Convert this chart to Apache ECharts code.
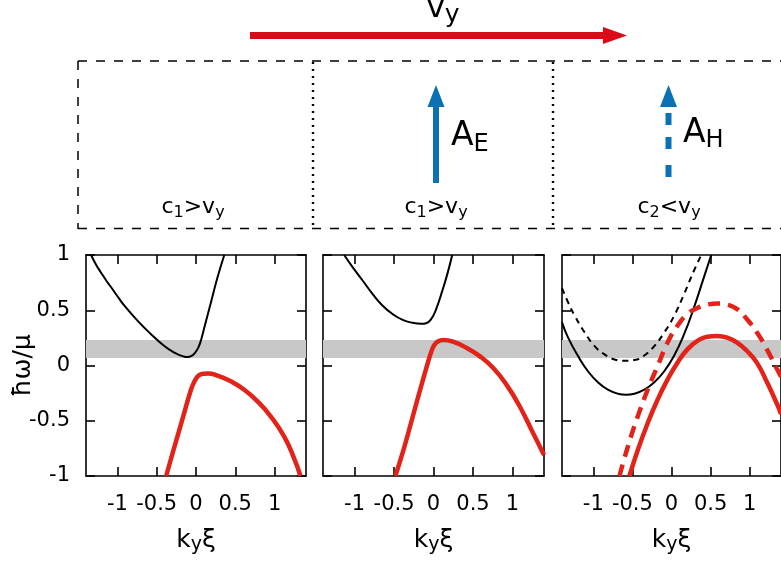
<!DOCTYPE html>
<html>
<head>
<meta charset="utf-8">
<title>Dispersion branches</title>
<script src="https://cdn.jsdelivr.net/npm/echarts@6/dist/echarts.min.js"></script>
<style>
  html, body { margin: 0; padding: 0; background: #fff; }
  #chart { width: 781px; height: 568px; }
</style>
</head>
<body>
<div id="chart"></div>
<script>
// Axis ranges and tick values (k_y ξ horizontally, ħω/μ vertically)
const kRange = [-1.4, 1.4];
const wRange = [-1, 1];
const kTicks = [-1, -0.5, 0, 0.5, 1];
const wTicks = [-1, -0.5, 0, 0.5, 1];

// Shaded frequency window
const bandRange = [0.068, 0.23];

// Panel 1: c1 > vy
const upper1 = [[-1.335, 1.0], [-1.27, 0.91], [-1.208, 0.84], [-1.145, 0.772], [-1.08, 0.708],
  [-0.995, 0.622], [-0.911, 0.541], [-0.742, 0.404], [-0.572, 0.283], [-0.403, 0.176],
  [-0.275, 0.116], [-0.2, 0.092], [-0.148, 0.08], [-0.11, 0.077], [-0.07, 0.083], [-0.035, 0.098],
  [0, 0.127], [0.035, 0.17], [0.07, 0.245], [0.106, 0.343], [0.19, 0.571], [0.275, 0.8], [0.36, 1.0]];
const lower1 = [[-0.38, -1.0], [-0.275, -0.736], [-0.169, -0.477], [-0.064, -0.219], [-0.02, -0.145],
  [0.02, -0.1], [0.06, -0.08], [0.1, -0.074], [0.15, -0.073], [0.275, -0.091], [0.445, -0.143],
  [0.614, -0.219], [0.784, -0.325], [0.953, -0.462], [1.123, -0.644], [1.25, -0.842], [1.33, -1.0]];

// Panel 2: c1 > vy, with A_E
const upper2 = [[-1.131, 1.0], [-1.025, 0.89], [-0.898, 0.769], [-0.771, 0.647], [-0.644, 0.541],
  [-0.517, 0.465], [-0.39, 0.413], [-0.263, 0.386], [-0.157, 0.377], [-0.093, 0.383], [-0.03, 0.419],
  [0.034, 0.511], [0.119, 0.693], [0.182, 0.845], [0.237, 1.0]];
const lower2 = [[-0.483, -1.0], [-0.369, -0.736], [-0.263, -0.462], [-0.157, -0.188], [-0.072, 0.024],
  [-0.03, 0.12], [0.01, 0.185], [0.055, 0.218], [0.127, 0.231], [0.246, 0.216], [0.415, 0.161],
  [0.585, 0.085], [0.754, -0.021], [0.924, -0.173], [1.093, -0.371], [1.263, -0.614], [1.4, -0.81]];

// Panel 3: c2 < vy, with A_H (solid and dashed branches)
const upper3 = [[-1.4, 0.39], [-1.322, 0.252], [-1.195, 0.085], [-1.068, -0.052], [-0.941, -0.152],
  [-0.814, -0.219], [-0.686, -0.255], [-0.581, -0.264], [-0.475, -0.255], [-0.347, -0.219],
  [-0.22, -0.152], [-0.093, -0.052], [0.034, 0.091], [0.161, 0.283], [0.288, 0.526], [0.415, 0.8], [0.508, 1.0]];
const upper3Dashed = [[-1.4, 0.7], [-1.322, 0.571], [-1.237, 0.45], [-1.11, 0.298], [-0.983, 0.176],
  [-0.856, 0.1], [-0.729, 0.055], [-0.602, 0.043], [-0.475, 0.049], [-0.347, 0.091], [-0.22, 0.176],
  [-0.093, 0.298], [0.034, 0.45], [0.161, 0.647], [0.288, 0.86], [0.381, 1.0]];
const lower3 = [[-0.538, -1.0], [-0.432, -0.766], [-0.305, -0.523], [-0.178, -0.31], [-0.051, -0.128],
  [0.076, 0.024], [0.203, 0.146], [0.331, 0.222], [0.458, 0.261], [0.585, 0.267], [0.712, 0.252],
  [0.839, 0.207], [0.966, 0.131], [1.093, 0.024], [1.22, -0.15], [1.35, -0.35], [1.4, -0.44]];
const lower3Dashed = [[-0.665, -1.0], [-0.559, -0.736], [-0.432, -0.462], [-0.305, -0.219], [-0.178, -0.006],
  [-0.051, 0.207], [0.076, 0.359], [0.203, 0.465], [0.331, 0.52], [0.458, 0.55], [0.585, 0.562],
  [0.712, 0.55], [0.839, 0.51], [0.966, 0.419], [1.093, 0.298], [1.22, 0.146], [1.347, -0.03], [1.4, -0.1]];

// Regime labels above each panel
const panelConditions = ['{m|c}{s|1}{m|>v}{s|y}', '{m|c}{s|1}{m|>v}{s|y}', '{m|c}{s|2}{m|<v}{s|y}'];

const FONT = 'DejaVu Sans';
const BLACK = '#000';
const RED = '#e2231a';
const ARROW_RED = '#da0a16';
const BLUE = '#0c70b4';

const panelLayout = [
  { left: 86, top: 255, width: 220, height: 221 },
  { left: 323, top: 255, width: 221, height: 221 },
  { left: 562, top: 255, width: 221, height: 221 }
];

const panelCurves = [
  [{ data: upper1, color: BLACK, width: 2 }, { data: lower1, color: RED, width: 4.5 }],
  [{ data: upper2, color: BLACK, width: 2 }, { data: lower2, color: RED, width: 4.5 }],
  [{ data: upper3Dashed, color: BLACK, width: 2, dash: [6, 5] },
   { data: upper3, color: BLACK, width: 2 },
   { data: lower3Dashed, color: RED, width: 4.5, dash: [12, 8] },
   { data: lower3, color: RED, width: 4.5 }]
];

const axisLineStyle = { color: BLACK, width: 1.6 };

const xAxes = [];
const yAxes = [];
const series = [];

panelLayout.forEach((g, i) => {
  xAxes.push({
    gridIndex: i, type: 'value', min: kRange[0], max: kRange[1], position: 'bottom',
    axisLine: { show: true, onZero: false, lineStyle: axisLineStyle },
    axisTick: { show: true, inside: true, length: 9, customValues: kTicks, lineStyle: axisLineStyle },
    axisLabel: { show: true, customValues: kTicks, fontSize: 21, fontFamily: FONT, color: BLACK, margin: 18 },
    splitLine: { show: false },
    name: 'k{s|y}ξ', nameLocation: 'middle', nameGap: 49,
    nameTextStyle: {
      fontFamily: FONT, fontSize: 25, color: BLACK, lineHeight: 30,
      rich: { s: { fontFamily: FONT, fontSize: 19, color: BLACK, lineHeight: 16, verticalAlign: 'bottom' } }
    }
  });
  xAxes.push({
    gridIndex: i, type: 'value', min: kRange[0], max: kRange[1], position: 'top',
    axisLine: { show: true, onZero: false, lineStyle: axisLineStyle },
    axisTick: { show: true, inside: true, length: 9, customValues: kTicks, lineStyle: axisLineStyle },
    axisLabel: { show: false },
    splitLine: { show: false }
  });
  yAxes.push({
    gridIndex: i, type: 'value', min: wRange[0], max: wRange[1], position: 'left',
    axisLine: { show: true, onZero: false, lineStyle: axisLineStyle },
    axisTick: { show: true, inside: true, length: 9, customValues: wTicks, lineStyle: axisLineStyle },
    axisLabel: { show: i === 0, customValues: wTicks, fontSize: 21, fontFamily: FONT, color: BLACK, margin: 16 },
    splitLine: { show: false },
    name: i === 0 ? 'ħω/μ' : '', nameLocation: 'middle', nameGap: 50, nameMoveOverlap: false,
    nameTextStyle: { fontFamily: FONT, fontSize: 25, color: BLACK }
  });
  yAxes.push({
    gridIndex: i, type: 'value', min: wRange[0], max: wRange[1], position: 'right',
    axisLine: { show: true, onZero: false, lineStyle: axisLineStyle },
    axisTick: { show: true, inside: true, length: 9, customValues: wTicks, lineStyle: axisLineStyle },
    axisLabel: { show: false },
    splitLine: { show: false }
  });

  // shaded window behind the curves
  series.push({
    type: 'line', xAxisIndex: 2 * i, yAxisIndex: 2 * i, data: [], z: 1, silent: true,
    markArea: {
      silent: true,
      itemStyle: { color: '#c8c8c8' },
      data: [[{ yAxis: bandRange[0] }, { yAxis: bandRange[1] }]]
    }
  });

  panelCurves[i].forEach(c => {
    series.push({
      type: 'line', xAxisIndex: 2 * i, yAxisIndex: 2 * i, data: c.data, z: 3,
      showSymbol: false, symbol: 'none', smooth: 0.5, silent: true, clip: true,
      lineStyle: { color: c.color, width: c.width, type: c.dash || 'solid', cap: 'butt' }
    });
  });
});

// Schematic strip above the panels
const dashed = { stroke: '#000', lineWidth: 1.5, lineDash: [9, 9] };
const dotted = { stroke: '#000', lineWidth: 2.4, lineDash: [2, 5] };
const labelRich = {
  m: { fontFamily: FONT, fontSize: 22, fill: BLACK, lineHeight: 28 },
  s: { fontFamily: FONT, fontSize: 16, fill: BLACK, lineHeight: 13, verticalAlign: 'bottom' }
};
const conditionX = [193, 436, 669];

const graphic = [
  // v_y velocity arrow
  { type: 'line', shape: { x1: 250, y1: 35.5, x2: 607, y2: 35.5 }, style: { stroke: ARROW_RED, lineWidth: 7 } },
  { type: 'polygon', shape: { points: [[603, 27], [627, 35.5], [603, 44]] }, style: { fill: ARROW_RED } },
  {
    type: 'text', x: 443, y: 9,
    style: {
      text: '{m|v}{s|y}', align: 'center', verticalAlign: 'middle',
      rich: {
        m: { fontFamily: FONT, fontSize: 31, fill: BLACK, lineHeight: 38 },
        s: { fontFamily: FONT, fontSize: 25, fill: BLACK, lineHeight: 24, verticalAlign: 'bottom' }
      }
    }
  },
  // frame of the strip
  { type: 'line', shape: { x1: 78, y1: 61, x2: 781, y2: 61 }, style: dashed },
  { type: 'line', shape: { x1: 78, y1: 228.5, x2: 781, y2: 228.5 }, style: dashed },
  { type: 'line', shape: { x1: 78, y1: 61, x2: 78, y2: 229 }, style: dashed },
  { type: 'line', shape: { x1: 313, y1: 62, x2: 313, y2: 229 }, style: dotted },
  { type: 'line', shape: { x1: 553, y1: 62, x2: 553, y2: 229 }, style: dotted },
  // A_E arrow (solid)
  { type: 'line', shape: { x1: 436, y1: 183, x2: 436, y2: 104 }, style: { stroke: BLUE, lineWidth: 6 } },
  { type: 'polygon', shape: { points: [[427.5, 107], [436, 85], [444.5, 107]] }, style: { fill: BLUE } },
  {
    type: 'text', x: 451, y: 136.5,
    style: {
      text: '{m|A}{s|E}', align: 'left', verticalAlign: 'middle',
      rich: {
        m: { fontFamily: FONT, fontSize: 33, fill: BLACK, lineHeight: 40 },
        s: { fontFamily: FONT, fontSize: 24, fill: BLACK, lineHeight: 20, verticalAlign: 'bottom' }
      }
    }
  },
  // A_H arrow (dashed)
  { type: 'line', shape: { x1: 668.5, y1: 177, x2: 668.5, y2: 165 }, style: { stroke: BLUE, lineWidth: 6 } },
  { type: 'line', shape: { x1: 668.5, y1: 149, x2: 668.5, y2: 137 }, style: { stroke: BLUE, lineWidth: 6 } },
  { type: 'line', shape: { x1: 668.5, y1: 125, x2: 668.5, y2: 113 }, style: { stroke: BLUE, lineWidth: 6 } },
  { type: 'polygon', shape: { points: [[660, 107], [668.5, 85], [677, 107]] }, style: { fill: BLUE } },
  {
    type: 'text', x: 683, y: 133,
    style: {
      text: '{m|A}{s|H}', align: 'left', verticalAlign: 'middle',
      rich: {
        m: { fontFamily: FONT, fontSize: 33, fill: BLACK, lineHeight: 40 },
        s: { fontFamily: FONT, fontSize: 24, fill: BLACK, lineHeight: 20, verticalAlign: 'bottom' }
      }
    }
  }
];

panelConditions.forEach((t, i) => {
  graphic.push({
    type: 'text', x: conditionX[i], y: 207,
    style: { text: t, align: 'center', verticalAlign: 'middle', rich: labelRich }
  });
});

const chart = echarts.init(document.getElementById('chart'), null, { renderer: 'canvas' });
chart.setOption({
  animation: false,
  backgroundColor: '#fff',
  textStyle: { fontFamily: FONT },
  grid: panelLayout.map(g => Object.assign({ containLabel: false, show: false }, g)),
  xAxis: xAxes,
  yAxis: yAxes,
  series: series,
  graphic: graphic
});
</script>
</body>
</html>
